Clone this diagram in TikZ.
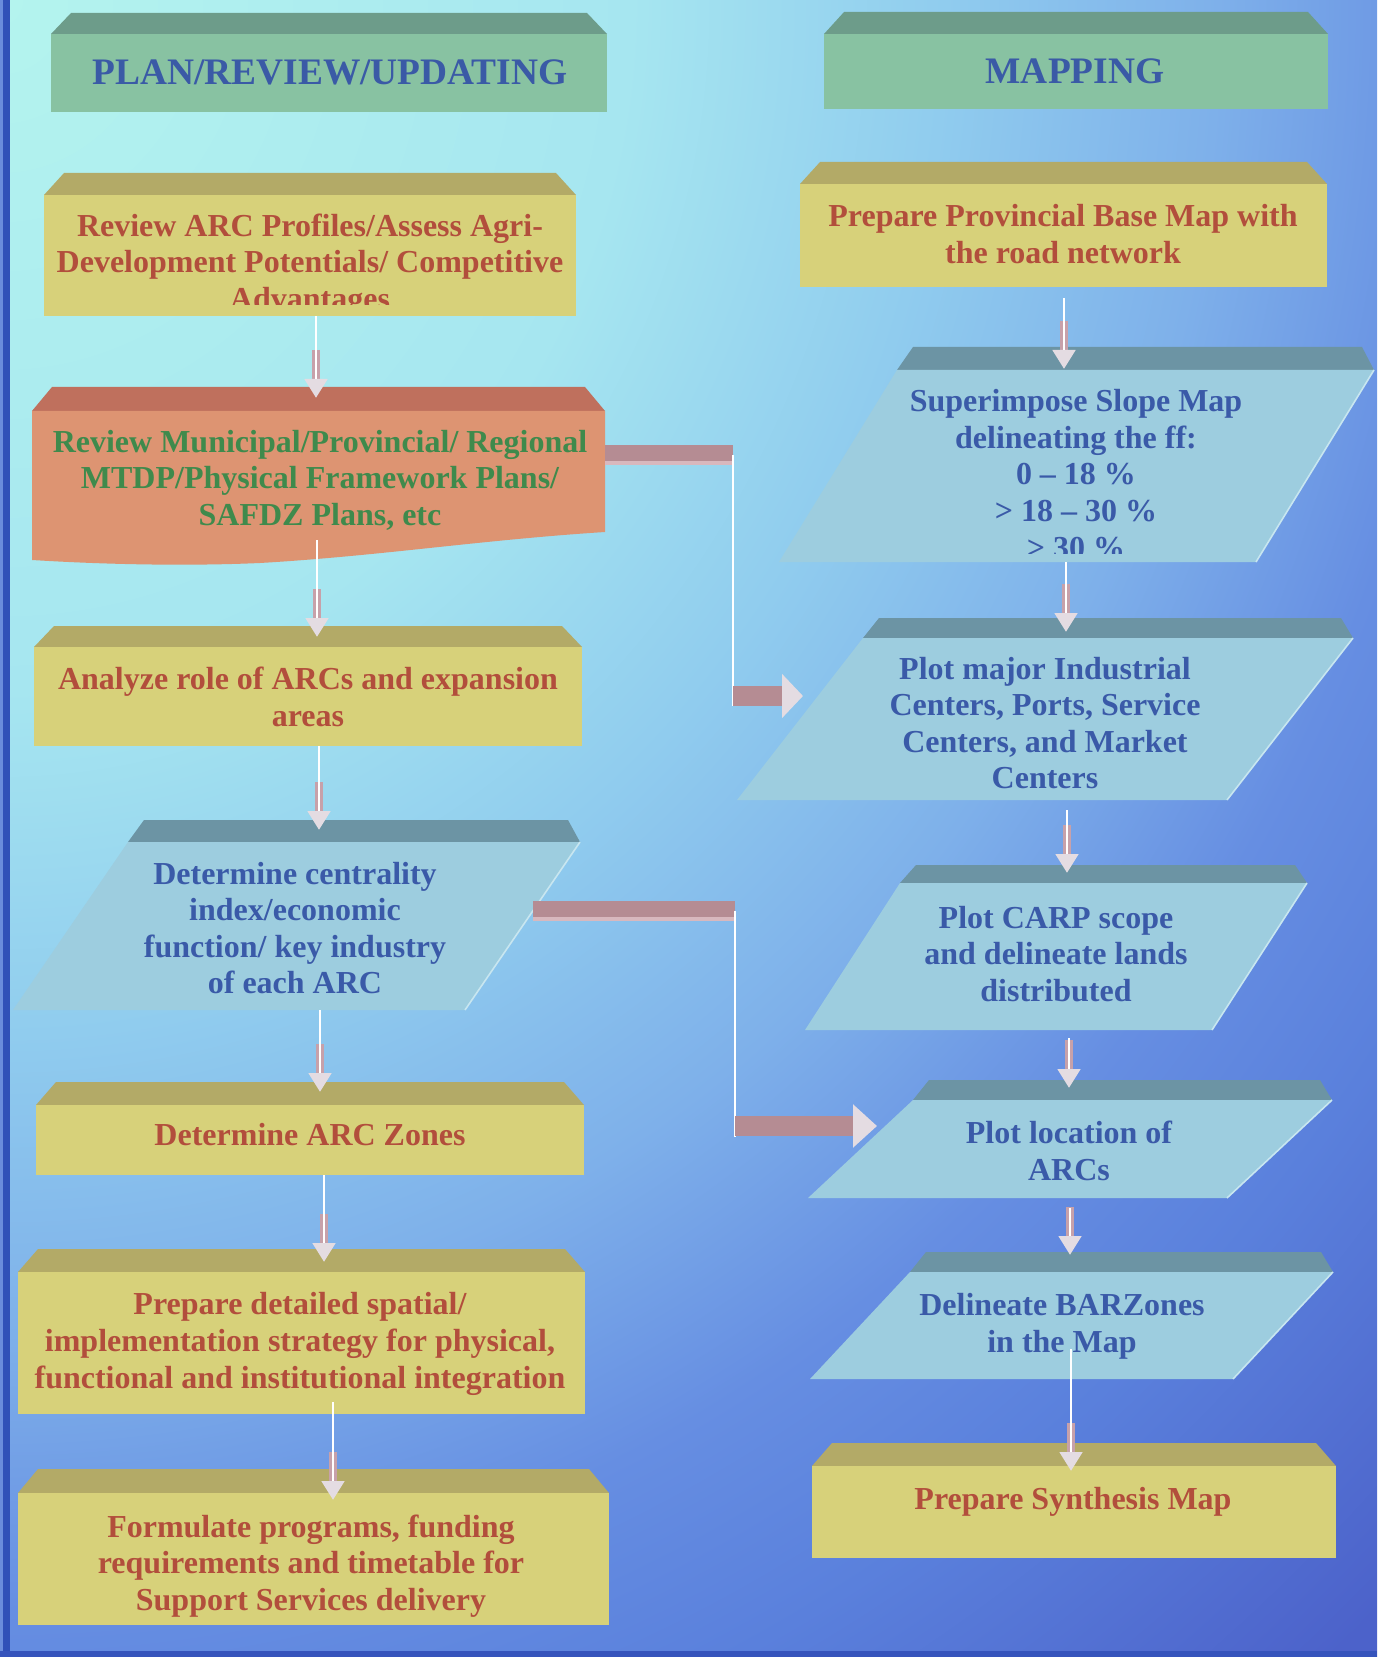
\documentclass[tikz,border=0pt]{standalone}
\usepackage{fontspec}
\setmainfont{Liberation Serif}
\usetikzlibrary{arrows.meta,calc}
\definecolor{bgA}{HTML}{B4F4EE}
\definecolor{bgB}{HTML}{A6E6F0}
\definecolor{bgC}{HTML}{90CCEE}
\definecolor{bgD}{HTML}{7EB0EA}
\definecolor{bgE}{HTML}{668EE2}
\definecolor{bgF}{HTML}{5A80DC}
\definecolor{bgG}{HTML}{4C62CA}
\definecolor{hdrFace}{HTML}{88C2A2}
\definecolor{hdrBand}{HTML}{6D9C8A}
\definecolor{hdrText}{HTML}{3A5AA6}
\definecolor{yelFace}{HTML}{D7D17A}
\definecolor{yelBand}{HTML}{B3AA67}
\definecolor{yelText}{HTML}{B24E3C}
\definecolor{oraFace}{HTML}{DD9472}
\definecolor{oraBand}{HTML}{BF705D}
\definecolor{oraText}{HTML}{3F8A4C}
\definecolor{bluFace}{HTML}{9DCDDF}
\definecolor{bluBand}{HTML}{6C94A4}
\definecolor{bluEdge}{HTML}{C8E6F0}
\definecolor{bluText}{HTML}{3A5AA8}
\definecolor{shaftC}{HTML}{C7A1AA}
\definecolor{headC}{HTML}{E4DCE2}
\definecolor{barC}{HTML}{B58C93}
\definecolor{barHi}{HTML}{D8B8BE}
\definecolor{stripeC}{HTML}{3050B8}
\definecolor{stripeL}{HTML}{6A8CDC}
\pgfdeclareradialshading{bgrad}{\pgfpointorigin}{color(0bp)=(bgA); color(7.5bp)=(bgB); color(11.25bp)=(bgC); color(14.5bp)=(bgD); color(17.5bp)=(bgE); color(20bp)=(bgF); color(24bp)=(bgG); color(50bp)=(bgG)}
\newcommand{\solidbox}[7]{%
  \fill[#7] ({#1+20},#3) -- ({#2-20},#3) -- (#2,#4) -- (#1,#4) -- cycle;
  \fill[#6] (#1,#4) rectangle (#2,#5);
}
\newcommand{\slantbox}[6]{%
  \fill[bluBand] ({#1+16},#4) -- ({#2-12},#4) -- (#2,#5) -- (#1,#5) -- cycle;
  \fill[bluFace] (#1,#5) -- (#2,#5) -- ({#2-#3},#6) -- ({#1-#3},#6) -- cycle;
  \draw[bluEdge, line width=0.8pt] (#2,#5) -- ({#2-#3},#6);
}
\newcommand{\downarrowto}[2]{%
  \draw[arrshaft] ($(#2)+(0,-48)$) -- (#2);
  \draw[whiteline] (#1) -- ($(#2)+(0,-19)$);
}
\tikzset{
  bodytext/.style={font=\fontsize{16}{18.3}\selectfont\bfseries, align=center, inner sep=0pt},
  headtext/.style={font=\fontsize{18.7}{22}\selectfont\bfseries, inner sep=0pt, text=hdrText},
  whiteline/.style={draw=white, line width=1.1pt},
  arrshaft/.style={draw=shaftC, line width=4pt, -{Triangle[length=9.5pt,width=11pt,color=headC]}},
  elbowbar/.style={draw=barC, line width=10pt},
  elbowhi/.style={draw=barHi, line width=2pt},
}
\begin{document}
\begin{tikzpicture}[x=0.5pt,y=-0.5pt]
\useasboundingbox (0,0) rectangle (1377,1657);
% background
\begin{scope}
  \clip (0,0) rectangle (1377,1657);
  \shade[shading=bgrad] (0,0) ellipse [x radius=2100, y radius=2300];
\end{scope}
\fill[stripeL] (0,0) rectangle (3,1657);
\fill[stripeC] (3,0) rectangle (10,1657);
\fill[stripeC!80!bgG] (0,1651) rectangle (1377,1657);

% headers
\solidbox{51}{607}{13}{34}{112}{hdrFace}{hdrBand}
\solidbox{824}{1328}{12}{34}{109}{hdrFace}{hdrBand}
\node[headtext] (hPlan) at (330,72) {PLAN/REVIEW/UPDATING};
\node[headtext] (hMap) at (1075,71) {MAPPING};

% left column boxes
\solidbox{44}{576}{173}{195}{316}{yelFace}{yelBand}
\fill[oraBand] (52,387) -- (585,387) -- (605,411) -- (32,411) -- cycle;
\fill[oraFace] (32,411) -- (605,411) -- (605,532) .. controls (480,540) and (380,556) .. (260,563) .. controls (170,567) and (80,563) .. (32,560) -- cycle;
\solidbox{34}{582}{626}{647}{746}{yelFace}{yelBand}
\slantbox{128}{580}{115}{820}{842}{1010}
\solidbox{36}{584}{1082}{1105}{1175}{yelFace}{yelBand}
\solidbox{18}{585}{1249}{1272}{1414}{yelFace}{yelBand}
\solidbox{18}{609}{1469}{1493}{1625}{yelFace}{yelBand}

% right column boxes
\solidbox{800}{1327}{162}{184}{287}{yelFace}{yelBand}
\slantbox{897}{1374}{118}{347}{370}{562}
\slantbox{863}{1353}{126}{618}{638}{800}
\slantbox{900}{1307}{95}{865}{883}{1030}
\slantbox{913}{1332}{105}{1080}{1100}{1198}
\slantbox{910}{1333}{100}{1252}{1272}{1379}
\solidbox{812}{1336}{1443}{1466}{1558}{yelFace}{yelBand}

% texts left
\begin{scope}
  \clip (44,195) rectangle (576,305);
  \node[bodytext, text=yelText] (tArc) at (310,265) {Review ARC Profiles/Assess Agri-\\Development Potentials/ Competitive\\Advantages};
\end{scope}
\node[bodytext, text=oraText] (tMun) at (320,480) {Review Municipal/Provincial/ Regional\\MTDP/Physical Framework Plans/\\SAFDZ Plans, etc};
\node[bodytext, text=yelText] (tAna) at (308,697) {Analyze role of ARCs and expansion\\areas};
\node[bodytext, text=bluText] (tCen) at (295,928) {Determine centrality\\index/economic\\function/ key industry\\of each ARC};
\node[bodytext, text=yelText] (tZon) at (310,1135) {Determine ARC Zones};
\node[bodytext, text=yelText] (tDet) at (300,1344) {Prepare detailed spatial/\\implementation strategy for physical,\\functional and institutional integration};
\node[bodytext, text=yelText] (tFor) at (311,1566) {Formulate programs, funding\\requirements and timetable for\\Support Services delivery};

% texts right
\node[bodytext, text=yelText] (tPro) at (1063,234) {Prepare Provincial Base Map with\\the road network};
\begin{scope}
  \clip (780,370) rectangle (1377,553);
  \node[bodytext, text=bluText] (tSup) at (1076,474) {Superimpose Slope Map\\delineating the ff:\\0 – 18 \%\\> 18 – 30 \%\\> 30 \%};
\end{scope}
\node[bodytext, text=bluText] (tInd) at (1045,723) {Plot major Industrial\\Centers, Ports, Service\\Centers, and Market\\Centers};
\node[bodytext, text=bluText] (tCarp) at (1056,954) {Plot CARP scope\\and delineate lands\\distributed};
\node[bodytext, text=bluText] (tLoc) at (1069,1151) {Plot location of\\ARCs};
\node[bodytext, text=bluText] (tBar) at (1062,1326) {Delineate BARZones\\in the Map};
\node[bodytext, text=yelText] (tSyn) at (1073,1502) {Prepare Synthesis Map};

% connector end points
\coordinate (a1s) at (316,316);  \coordinate (a1e) at (316,398);
\coordinate (a2s) at (317,540);  \coordinate (a2e) at (317,637);
\coordinate (a3s) at (319,746);  \coordinate (a3e) at (319,830);
\coordinate (a4s) at (320,1010); \coordinate (a4e) at (320,1092);
\coordinate (a5s) at (324,1175); \coordinate (a5e) at (324,1262);
\coordinate (a6s) at (333,1402); \coordinate (a6e) at (333,1500);
\coordinate (b1s) at (1064,298); \coordinate (b1e) at (1064,369);
\coordinate (b2s) at (1066,562); \coordinate (b2e) at (1066,632);
\coordinate (b3s) at (1067,810); \coordinate (b3e) at (1067,873);
\coordinate (b4s) at (1069,1038); \coordinate (b4e) at (1069,1088);
\coordinate (b5s) at (1070,1208); \coordinate (b5e) at (1070,1255);
\coordinate (b6s) at (1071,1349); \coordinate (b6e) at (1071,1471);

\downarrowto{a1s}{a1e}
\downarrowto{a2s}{a2e}
\downarrowto{a3s}{a3e}
\downarrowto{a4s}{a4e}
\downarrowto{a5s}{a5e}
\downarrowto{a6s}{a6e}
\downarrowto{b1s}{b1e}
\downarrowto{b2s}{b2e}
\downarrowto{b3s}{b3e}
\downarrowto{b4s}{b4e}
\downarrowto{b5s}{b5e}
\downarrowto{b6s}{b6e}

% elbow connectors
\coordinate (e1a) at (605,455); \coordinate (e1b) at (733,455);
\coordinate (e1c) at (733,696); \coordinate (e1f) at (733,706); \coordinate (e1d) at (803,696);
\draw[elbowbar] (e1a) -- (e1b);
\draw[elbowhi] ($(e1a)+(0,8)$) -- ($(e1b)+(0,8)$);
\draw[whiteline] (e1b) -- (e1f);
\draw[elbowbar, -{Triangle[length=10.5pt,width=21.5pt,color=headC]}] (e1c) -- (e1d);

\coordinate (e2a) at (533,911); \coordinate (e2b) at (735,911);
\coordinate (e2c) at (735,1126); \coordinate (e2f) at (735,1137); \coordinate (e2d) at (877,1126);
\draw[elbowbar] (e2a) -- (e2b);
\draw[elbowhi] ($(e2a)+(0,8)$) -- ($(e2b)+(0,8)$);
\draw[whiteline] (e2b) -- (e2f);
\draw[elbowbar, -{Triangle[length=12pt,width=21pt,color=headC]}] (e2c) -- (e2d);
\end{tikzpicture}
\end{document}
